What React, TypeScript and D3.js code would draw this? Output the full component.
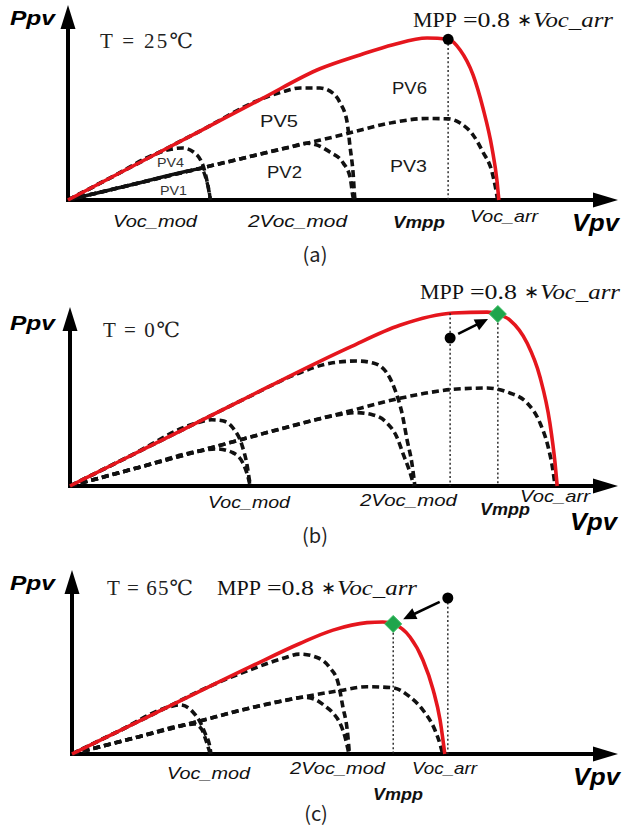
import React from "react";
import * as d3 from "d3";

type Pt = [number, number];

// ---------- Panel (a): T = 25 C  (V in units where Voc_arr(25C) = 100, P where Pmpp(25C) = 100)
const A_PV1: Pt[] = [[0, 0], [15, 9.5], [29.1, 18.4], [31, 19.3], [32.2, 12], [32.9, 4], [33.1, 0]];
const A_PV2: Pt[] = [[0, 0], [15, 9.5], [29.1, 18.4], [40, 25.2], [52, 32.8], [55.5, 34.8], [57.5, 34], [60.9, 29.4], [64, 22.7], [65.6, 14.1], [66.3, 1.8], [66.5, 0]];
const A_PV3: Pt[] = [[0, 0], [15, 9.5], [29.1, 18.4], [40, 25.2], [56.3, 35.3], [62.6, 39.2], [68.6, 43.3], [75.6, 47.6], [83.5, 50], [88.4, 49.8], [91.2, 47.2], [94.2, 39.9], [96.5, 29.4], [98.6, 17.2], [99.6, 4.9], [99.9, 0]];
const A_PV4: Pt[] = [[0, 0], [10, 13.8], [21, 28.9], [24, 31.2], [26.7, 31.9], [30, 27.6], [31.9, 16.6], [32.8, 5], [33.1, 0]];
const A_PV5: Pt[] = [[0, 0], [15, 20.7], [30.7, 42.3], [45.3, 62.3], [50, 66.5], [54, 68.7], [58.6, 68.7], [61.6, 65.6], [63.3, 59.5], [64.9, 47.9], [65.6, 32.5], [66.3, 16.6], [66.7, 1.2], [66.8, 0]];
const A_PV6: Pt[] = [[0, 0], [15, 20.7], [30.7, 42.3], [45, 62], [58.6, 80.5], [67.9, 89], [75.6, 95.3], [83.5, 99.4], [88.4, 98.6], [91.2, 92], [94.2, 76.7], [96.5, 56.4], [98.6, 31.9], [99.8, 11], [100.2, 0]];
const A_MPP: Pt = [88.4, 98.6];

// ---------- Panel (b): T = 0 C
const B_PV1: Pt[] = [[0, 0], [16, 11.4], [30, 21.4], [34, 22.8], [37.9, 20.4], [40.2, 14.1], [41.4, 5.5], [41.9, 0]];
const B_PV2: Pt[] = [[0, 0], [16, 11.4], [33.3, 23.8], [48.8, 34.9], [58.1, 41.3], [62.5, 43.8], [66.5, 45], [70.5, 43.6], [73.7, 38.7], [76, 30.1], [77.4, 20.2], [79.1, 8], [79.8, 1.8], [80, 0]];
const B_PV3: Pt[] = [[0, 0], [16, 11.4], [33.3, 23.8], [48.8, 34.9], [58.1, 41.3], [64.3, 45.5], [76.7, 53.8], [83.7, 57.4], [89.1, 59.3], [97, 60.1], [101.6, 57.7], [106.3, 50.9], [109.3, 38.7], [111.2, 23.9], [112.3, 9.8], [112.8, 0]];
const B_PV4: Pt[] = [[0, 0], [14, 18.5], [29, 38.3], [33, 40.6], [35.5, 40], [37.9, 35.6], [40, 25], [41.2, 12.5], [41.8, 2.5], [42, 0]];
const B_PV5: Pt[] = [[0, 0], [12, 15.8], [25.6, 33.7], [41.2, 54.2], [52.8, 68.8], [60.5, 75.3], [66.7, 76.7], [70.5, 75.5], [73.7, 69.3], [75.6, 58.9], [77.2, 44.8], [78.4, 28.2], [79.5, 14.1], [80.2, 0]];
const B_PV6: Pt[] = [[0, 0], [12, 15.8], [25.6, 33.7], [40, 52.7], [58.1, 76.5], [65.1, 85.2], [76.7, 98.6], [89.1, 106.1], [97, 106.7], [99.5, 105.5], [102.3, 101.8], [106.3, 87.7], [109.3, 66.9], [111.6, 38.7], [112.8, 14.1], [113.3, 0]];
const B_OLD: Pt = [88.4, 90.8];
const B_OLD_TOP = 106;
const B_MPP: Pt = [99.5, 105.5];

// ---------- Panel (c): T = 65 C
const C_PV1: Pt[] = [[0, 0], [15, 10.2], [26, 17.7], [28.5, 18.4], [30.2, 15], [31.2, 8], [32, 1.5], [32.2, 0]];
const C_PV2: Pt[] = [[0, 0], [15, 10.2], [29.8, 20.3], [41.4, 28.2], [50, 33.2], [54, 34.8], [56.5, 33.5], [58.8, 29.5], [60.7, 25.2], [62.3, 19], [63.5, 10.4], [64.2, 2.5], [64.4, 0]];
const C_PV3: Pt[] = [[0, 0], [15, 10.2], [29.8, 20.3], [41.4, 28.2], [51.4, 33.8], [62.3, 38.9], [68.6, 41.3], [74.7, 40.6], [78.6, 35], [81.6, 27], [84.4, 14.7], [85.6, 6], [86.2, 0]];
const C_PV4: Pt[] = [[0, 0], [11, 14.2], [22.1, 28.5], [25.1, 30.1], [28.1, 25.8], [29.8, 19.6], [30.9, 12.9], [32.1, 3.7], [32.3, 0]];
const C_PV5: Pt[] = [[0, 0], [18.1, 23.4], [33.7, 43.5], [41.4, 51.6], [49.1, 58.7], [53, 61.3], [57, 59.2], [60, 52.8], [61.9, 43.6], [63, 28.8], [64, 14.7], [64.4, 3.7], [64.5, 0]];
const C_PV6: Pt[] = [[0, 0], [18.1, 23.4], [41.4, 53.4], [53, 67.8], [60.7, 76], [68.6, 80.6], [72.3, 81], [74.7, 79.8], [78.6, 71.8], [81.6, 57.7], [84, 39.3], [85.6, 20.9], [86.7, 0]];
const C_OLD: Pt = [87.4, 95.7];
const C_MPP: Pt = [74.7, 79.8];

// ---------- text
const TEMPS = ["T = 25\u2103", "T = 0\u2103", "T = 65\u2103"];
const CAPTIONS = ["(a)", "(b)", "(c)"];
const TICK_NAMES = ["Voc_mod", "2Voc_mod", "Vmpp", "Voc_arr"];
const PV_NAMES = ["PV1", "PV2", "PV3", "PV4", "PV5", "PV6"];

const RED = "#e5161d";
const GREEN = "#1fa54c";
const SERIF = "'Liberation Serif','DejaVu Serif','Noto Sans CJK KR',serif";
const SANS = "'Liberation Sans',Arial,sans-serif";

type Layout = {
  x0: number; y0: number; yTop: number; xEnd: number;
  ppv: [number, number]; temp: [number, number, number];
  mpp: [number, number];
  ticks: [number, number, number][];
  vpv: [number, number];
  cap: [number, number];
};

const LAYOUTS: Layout[] = [
  { x0: 68, y0: 200, yTop: 5, xEnd: 618, ppv: [10, 25], temp: [100, 48, 93], mpp: [413, 27],
    ticks: [[113, 227, 84], [248, 227, 99], [393, 228, 52], [470, 222, 68]], vpv: [572, 231], cap: [315, 262] },
  { x0: 70, y0: 486, yTop: 307, xEnd: 618, ppv: [10, 330], temp: [103, 337, 77], mpp: [420, 299],
    ticks: [[208, 508, 82], [360, 506, 97], [480, 515, 50], [520, 502, 70]], vpv: [570, 530], cap: [315, 543] },
  { x0: 72, y0: 754, yTop: 570, xEnd: 618, ppv: [10, 590], temp: [107, 595, 86], mpp: [217, 595],
    ticks: [[167, 779, 83], [290, 774, 95], [373, 800, 50], [412, 774, 65]], vpv: [573, 785], cap: [316, 821] },
];

const SERIES = [
  { lower: [A_PV1, A_PV2, A_PV3], upper: [A_PV4, A_PV5], red: A_PV6 },
  { lower: [B_PV1, B_PV2, B_PV3], upper: [B_PV4, B_PV5], red: B_PV6 },
  { lower: [C_PV1, C_PV2, C_PV3], upper: [C_PV4, C_PV5], red: C_PV6 },
];

function MppText({ x, y }: { x: number; y: number }) {
  return (
    <g fontFamily={SERIF} fill="#111">
      <text x={x} y={y} fontSize={22} textLength={44} lengthAdjust="spacingAndGlyphs">MPP</text>
      <text x={x + 50} y={y} fontSize={22} textLength={47} lengthAdjust="spacingAndGlyphs">=0.8</text>
      <text x={x + 104} y={y - 1} fontSize={18} fontFamily="'DejaVu Sans',sans-serif">{"\u2217"}</text>
      <text x={x + 120} y={y} fontSize={22} fontStyle="italic" textLength={80} lengthAdjust="spacingAndGlyphs">Voc_arr</text>
    </g>
  );
}

function Panel({ idx }: { idx: number }) {
  const L = LAYOUTS[idx];
  const S = SERIES[idx];
  const x = d3.scaleLinear().domain([0, 100]).range([L.x0, L.x0 + 430]);
  const y = d3.scaleLinear().domain([0, 100]).range([L.y0, L.y0 - 163]);
  const line = d3.line<Pt>().x((d) => x(d[0])).y((d) => y(d[1])).curve(d3.curveMonotoneX);

  const dashed = { fill: "none", stroke: "#111", strokeWidth: 3.6, strokeDasharray: "7 4" };
  const dotted = { stroke: "#222", strokeWidth: 1.4, strokeDasharray: "2 2.4" };

  const marks: React.ReactNode[] = [];
  if (idx === 0) {
    marks.push(<line key="v" x1={x(A_MPP[0])} x2={x(A_MPP[0])} y1={y(A_MPP[1])} y2={L.y0} {...dotted} />);
    marks.push(<circle key="d" cx={x(A_MPP[0])} cy={y(A_MPP[1])} r={5.5} fill="#000" />);
  } else {
    const old = idx === 1 ? B_OLD : C_OLD;
    const mpp = idx === 1 ? B_MPP : C_MPP;
    const oldTop = idx === 1 ? B_OLD_TOP : C_OLD[1];
    marks.push(<line key="v1" x1={x(old[0])} x2={x(old[0])} y1={y(oldTop)} y2={L.y0} {...dotted} />);
    marks.push(<line key="v2" x1={x(mpp[0])} x2={x(mpp[0])} y1={y(mpp[1])} y2={L.y0} {...dotted} />);
    const px0 = x(old[0]), py0 = y(old[1]), px1 = x(mpp[0]), py1 = y(mpp[1]);
    const dx = px1 - px0, dy = py1 - py0, len = Math.hypot(dx, dy);
    const ux = dx / len, uy = dy / len;
    const sx = px0 + ux * 9, sy = py0 + uy * 9;
    const tx = px1 - ux * 11, ty = py1 - uy * 11;
    const bx = tx - ux * 13, by = ty - uy * 13;
    marks.push(<line key="ar" x1={sx} y1={sy} x2={bx + ux * 2} y2={by + uy * 2} stroke="#000" strokeWidth={2.6} />);
    marks.push(<polygon key="ah" points={`${tx},${ty} ${bx - uy * 6},${by + ux * 6} ${bx + uy * 6},${by - ux * 6}`} fill="#000" />);
    marks.push(<circle key="d" cx={px0} cy={py0} r={5.5} fill="#000" />);
    const h = 8.5;
    marks.push(<polygon key="dm" points={`${px1},${py1 - h} ${px1 + h},${py1} ${px1},${py1 + h} ${px1 - h},${py1}`} fill={GREEN} stroke="#3cc065" strokeWidth={1} />);
  }

  return (
    <g>
      <line x1={L.x0} y1={L.y0 + 2} x2={L.x0} y2={L.yTop + 18} stroke="#000" strokeWidth={4} />
      <polygon points={`${L.x0},${L.yTop} ${L.x0 - 7.5},${L.yTop + 24} ${L.x0 + 7.5},${L.yTop + 24}`} fill="#000" />
      <line x1={L.x0 - 2} y1={L.y0} x2={L.xEnd - 18} y2={L.y0} stroke="#000" strokeWidth={4} />
      <polygon points={`${L.xEnd},${L.y0} ${L.xEnd - 25},${L.y0 - 7.5} ${L.xEnd - 25},${L.y0 + 7.5}`} fill="#000" />

      {S.lower.map((d, i) =>
        idx === 0 && i === 0 ? (
          <path key={"l" + i} d={line(d) || ""} fill="none" stroke="#111" strokeWidth={3.4} strokeDasharray="137 4 7 4 7 4 7 4 7 4 7 4" />
        ) : (
          <path key={"l" + i} d={line(d) || ""} {...dashed} />
        )
      )}
      {S.upper.map((d, i) => (
        <path key={"u" + i} d={line(d) || ""} {...dashed} />
      ))}
      <path d={line(S.red) || ""} fill="none" stroke={RED} strokeWidth={3.6} />
      {marks}

      <text x={L.ppv[0]} y={L.ppv[1]} fontFamily={SANS} fontWeight="bold" fontStyle="italic" fontSize={20} textLength={45} lengthAdjust="spacingAndGlyphs" fill="#000">Ppv</text>
      <text x={L.temp[0]} y={L.temp[1]} fontFamily={SERIF} fontSize={21} textLength={L.temp[2]} lengthAdjust="spacing" fill="#222">{TEMPS[idx]}</text>
      <MppText x={L.mpp[0]} y={L.mpp[1]} />
      {TICK_NAMES.map((t, i) => (
        <text key={t} x={L.ticks[i][0]} y={L.ticks[i][1]} fontFamily={SANS} fontStyle="italic" fontWeight={i === 2 ? "bold" : "normal"} fontSize={17} textLength={L.ticks[i][2]} lengthAdjust="spacingAndGlyphs" fill="#111">{t}</text>
      ))}
      <text x={L.vpv[0]} y={L.vpv[1]} fontFamily={SANS} fontWeight="bold" fontStyle="italic" fontSize={24} textLength={47} lengthAdjust="spacingAndGlyphs" fill="#000">Vpv</text>
      <text x={L.cap[0]} y={L.cap[1]} textAnchor="middle" fontFamily="'Noto Sans CJK KR',sans-serif" fontSize={20} fill="#222">{CAPTIONS[idx]}</text>

      {idx === 0 && (
        <g fontFamily={SANS} fill="#1a1a1a">
          <text x={392} y={94} fontSize={17} textLength={35} lengthAdjust="spacingAndGlyphs">{PV_NAMES[5]}</text>
          <text x={260} y={127} fontSize={17} textLength={38} lengthAdjust="spacingAndGlyphs">{PV_NAMES[4]}</text>
          <text x={267} y={178} fontSize={17} textLength={35} lengthAdjust="spacingAndGlyphs">{PV_NAMES[1]}</text>
          <text x={390} y={172} fontSize={17} textLength={37} lengthAdjust="spacingAndGlyphs">{PV_NAMES[2]}</text>
          <text x={157} y={167} fontSize={12} fill="#333" textLength={27} lengthAdjust="spacingAndGlyphs">{PV_NAMES[3]}</text>
          <text x={160} y={195} fontSize={12} fill="#333" textLength={27} lengthAdjust="spacingAndGlyphs">{PV_NAMES[0]}</text>
        </g>
      )}
    </g>
  );
}

export default function App() {
  return (
    <svg width={623} height={831} viewBox="0 0 623 831" style={{ position: "absolute", left: 0, top: 0, background: "#fff" }}>
      <rect width={623} height={831} fill="#fff" />
      {[0, 1, 2].map((i) => (
        <Panel key={i} idx={i} />
      ))}
    </svg>
  );
}
